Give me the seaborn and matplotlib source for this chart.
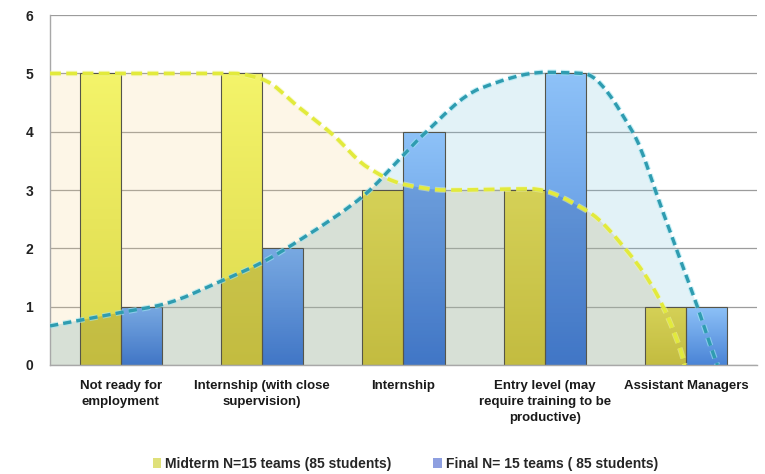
import numpy as np
import pandas as pd
import matplotlib
matplotlib.use("Agg")
import matplotlib.pyplot as plt
import matplotlib.patheffects as pe
from matplotlib.path import Path
from matplotlib.patches import PathPatch, Patch
from matplotlib.colors import LinearSegmentedColormap
import seaborn as sns

categories = ["Not ready for\nemployment", "Internship (with close\nsupervision)", "Internship",
              "Entry level (may\nrequire training to be\nproductive)", "Assistant Managers"]
midterm = [5, 5, 3, 3, 1]
final = [1, 2, 4, 5, 1]
series_names = ["Midterm N=15 teams (85 students)", "Final N= 15 teams ( 85 students)"]

# dashed trend curves (x in category units, y in value)
mid_trend_x = [-0.5, 0.8, 1.0, 1.27, 1.5, 1.74, 2.0, 2.3, 2.9, 3.3, 3.6, 3.79, 3.96, 3.99]
mid_trend_y = [5.0, 5.0, 4.9, 4.4, 3.95, 3.4, 3.1, 3.0, 3.02, 2.64, 1.9, 1.22, 0.25, 0.0]
fin_trend_x = [-0.5, 0.0, 0.3, 0.72, 1.0, 1.29, 1.73, 1.98, 2.14, 2.54, 3.01, 3.27, 3.62, 3.84, 3.96, 4.08, 4.19, 4.22]
fin_trend_y = [0.67, 0.9, 1.04, 1.45, 1.76, 2.18, 2.93, 3.55, 3.95, 4.74, 5.02, 5.0, 4.0, 2.59, 1.79, 0.99, 0.2, 0.0]

MID_TOP, MID_BOT = "#f4f46a", "#dcd84c"
FIN_TOP, FIN_BOT = "#8ec2f8", "#4a84d6"


def smooth_path(xs, ys, close=False):
    """Monotone cubic through the points, as Bezier segments (Excel-like smoothed line)."""
    xs = np.asarray(xs, float)
    ys = np.asarray(ys, float)
    h = np.diff(xs)
    d = np.diff(ys) / h
    m = np.empty(len(xs))
    m[0], m[-1] = d[0], d[-1]
    for i in range(1, len(xs) - 1):
        if d[i - 1] * d[i] <= 0:
            m[i] = 0.0
        else:
            w1, w2 = 2 * h[i] + h[i - 1], h[i] + 2 * h[i - 1]
            m[i] = (w1 + w2) / (w1 / d[i - 1] + w2 / d[i])
    verts = [(xs[0], ys[0])]
    codes = [Path.MOVETO]
    for i in range(len(xs) - 1):
        dx = h[i] / 3
        verts += [(xs[i] + dx, ys[i] + dx * m[i]),
                  (xs[i + 1] - dx, ys[i + 1] - dx * m[i + 1]),
                  (xs[i + 1], ys[i + 1])]
        codes += [Path.CURVE4] * 3
    if close:
        verts += [(xs[-1], 0), (xs[0], 0), (xs[0], ys[0])]
        codes += [Path.LINETO, Path.LINETO, Path.CLOSEPOLY]
    return Path(verts, codes)


sns.set_style("white")
plt.rcParams["font.family"] = ["Liberation Sans Narrow", "Liberation Sans", "DejaVu Sans"]

fig = plt.figure(figsize=(7.65, 4.74), dpi=100)
ax = fig.add_axes([0.0654, 0.23, 0.9241, 0.738])

df = pd.DataFrame({
    "category": categories * 2,
    "value": midterm + final,
    "series": [series_names[0]] * len(midterm) + [series_names[1]] * len(final),
})
sns.barplot(df, x="category", y="value", hue="series", order=categories, hue_order=series_names,
            palette=[MID_BOT, FIN_BOT], width=0.58, saturation=1, edgecolor="#55554a",
            linewidth=0.8, legend=False, ax=ax)
bars = list(ax.patches)

# translucent areas under the trend curves (behind the bars)
mid_area = PathPatch(smooth_path(mid_trend_x, mid_trend_y, close=True), fc="#f5d38a", ec="none",
                     alpha=0.2, zorder=1)
fin_area = PathPatch(smooth_path(fin_trend_x, fin_trend_y, close=True), fc="#7cc4dc", ec="none",
                     alpha=0.22, zorder=1.1)
ax.add_patch(mid_area)
ax.add_patch(fin_area)
overlap = PathPatch(smooth_path(fin_trend_x, fin_trend_y, close=True), fc="#8c8060", ec="none",
                    alpha=0.1, zorder=1.2)
ax.add_patch(overlap)
overlap.set_clip_path(mid_area)

# vertical gradient inside each bar, darkened where the other series' area covers it
grad = np.linspace(0, 1, 256).reshape(-1, 1)
cmaps = [LinearSegmentedColormap.from_list("mid", [MID_BOT, MID_TOP]),
         LinearSegmentedColormap.from_list("fin", [FIN_BOT, FIN_TOP])]
for k, bar in enumerate(bars):
    is_mid = k < len(categories)
    x, w, hgt = bar.get_x(), bar.get_width(), bar.get_height()
    im = ax.imshow(grad, extent=[x, x + w, 0, hgt], origin="lower", aspect="auto",
                   cmap=cmaps[0 if is_mid else 1], zorder=2.1)
    im.set_clip_path(bar)
    if is_mid:
        shade = PathPatch(smooth_path(fin_trend_x, fin_trend_y, close=True), fc="#7a6a20",
                          ec="none", alpha=0.25, zorder=2.15)
    else:
        shade = PathPatch(smooth_path(mid_trend_x, mid_trend_y, close=True), fc="#1a3a80",
                          ec="none", alpha=0.18, zorder=2.15)
    ax.add_patch(shade)
    shade.set_clip_path(bar)
    bar.set_facecolor("none")
    bar.set_zorder(2.2)

# dashed trend lines
ax.add_patch(PathPatch(smooth_path(mid_trend_x, mid_trend_y), fc="none", ec="#e2ea3c", lw=2.6,
                       ls=(0, (3, 1.5)), zorder=4,
                       path_effects=[pe.withStroke(linewidth=4, foreground="#f2f7a8", alpha=0.5)]))
ax.add_patch(PathPatch(smooth_path(fin_trend_x, fin_trend_y), fc="none", ec="#2f9cb0", lw=2.4,
                       ls=(0, (2.5, 1.5)), zorder=4.1,
                       path_effects=[pe.withStroke(linewidth=4, foreground="#9fe6f2", alpha=0.6)]))

ax.set_xlim(-0.5, len(categories) - 0.5)
ax.set_ylim(0, 6)
ax.set_yticks(range(7))
ax.set_axisbelow(True)
ax.yaxis.grid(True, color="#9c9c9c", lw=0.9)
ax.xaxis.grid(False)
ax.set_xlabel("")
ax.set_ylabel("")
for side in ("top", "right"):
    ax.spines[side].set_visible(False)
for side in ("left", "bottom"):
    ax.spines[side].set_color("#a8a8a8")
    ax.spines[side].set_linewidth(1.0)

ax.tick_params(axis="y", length=4, color="#a8a8a8", labelcolor="#222222", labelsize=10, pad=8)
for t in ax.get_yticklabels():
    t.set_fontweight("bold")
ax.set_xticks(range(len(categories)))
ax.set_xticklabels(categories, fontsize=9.5, fontweight="bold", color="#1a1a1a", linespacing=1.45)
ax.tick_params(axis="x", which="major", length=0, pad=11)
ax.set_xticks(np.arange(len(categories) + 1) - 0.5, minor=True)
ax.tick_params(axis="x", which="minor", length=4, color="#a8a8a8", direction="out")

handles = [Patch(fc="#dfe07a", ec="none"), Patch(fc="#8e9fe0", ec="none")]
fig.legend(handles, series_names, loc="lower center", bbox_to_anchor=(0.53, -0.02), ncol=2,
           frameon=False, handlelength=0.6, handleheight=0.7, handletextpad=0.3,
           columnspacing=3.0, prop={"size": 10, "weight": "bold"})

fig.savefig("out.png", dpi=100, facecolor="white")
